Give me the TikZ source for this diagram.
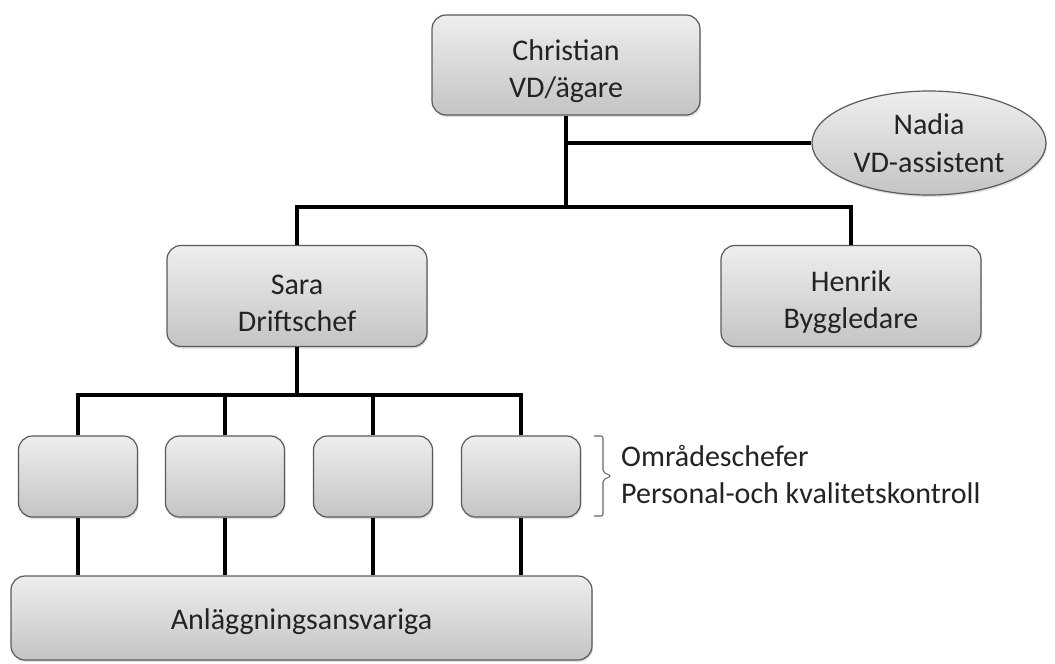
\documentclass[tikz,border=0pt]{standalone}
\usepackage{fontspec}
\setmainfont{Carlito}
\usetikzlibrary{shapes.geometric,shadows}
\definecolor{boxtop}{RGB}{238,238,238}
\definecolor{boxbot}{RGB}{196,196,196}
\definecolor{boxedge}{RGB}{90,90,90}
\definecolor{txt}{RGB}{35,35,35}
\newcommand{\topstrut}{\rule{0pt}{34pt}}
\tikzset{
  orgbox/.style={draw=boxedge, line width=1.2pt, rounded corners=14pt,
    top color=boxtop, bottom color=boxbot, align=center, text=txt,
    font=\fontsize{30}{37}\selectfont, inner sep=0pt,
    drop shadow={shadow xshift=1pt, shadow yshift=-2pt, opacity=0.25}},
  orgell/.style={ellipse, draw=boxedge, line width=1.2pt,
    top color=boxtop, bottom color=boxbot, align=center, text=txt,
    font=\fontsize{30}{38}\selectfont, inner sep=0pt,
    drop shadow={shadow xshift=1pt, shadow yshift=-2pt, opacity=0.25}},
  conn/.style={line width=3.5pt, black},
  bracetxt/.style={align=left, text=txt, font=\fontsize{30}{37}\selectfont, inner sep=0pt}
}
\begin{document}
\begin{tikzpicture}[x=1pt,y=-1pt]
\useasboundingbox (0,0) rectangle (1055,664);
\coordinate (bar1) at (566,207);
\coordinate (bar2) at (297,395);
\node[orgbox, minimum width=268pt, minimum height=100pt] (chr) at (566,65) {\topstrut Christian\\VD/ägare};
\node[orgell, minimum width=234pt, minimum height=104pt] (nadia) at (929,143) {Nadia\\VD-assistent};
\node[orgbox, minimum width=260pt, minimum height=101pt] (sara) at (297,296) {\topstrut Sara\\Driftschef};
\node[orgbox, minimum width=260pt, minimum height=101pt] (henrik) at (851,296) {\topstrut Henrik\\Byggledare};
\node[orgbox, minimum width=119pt, minimum height=81pt] (b1) at (78,476.5) {};
\node[orgbox, minimum width=119pt, minimum height=81pt] (b2) at (225,476.5) {};
\node[orgbox, minimum width=119pt, minimum height=81pt] (b3) at (373,476.5) {};
\node[orgbox, minimum width=119pt, minimum height=81pt] (b4) at (521,476.5) {};
\node[orgbox, minimum width=581pt, minimum height=84pt] (bot) at (301.5,618) {\rule{0pt}{28pt}Anläggningsansvariga};

\draw[conn] (chr.south) -- (chr.south |- bar1);
\draw[conn] (chr.south |- nadia.west) -- (nadia.west);
\draw[conn, line join=miter] (sara.north) -- (sara.north |- bar1) -- (henrik.north |- bar1) -- (henrik.north);
\draw[conn] (sara.south) -- (bar2);
\draw[conn, line join=miter] (b1.north) -- (b1.north |- bar2) -- (b4.north |- bar2) -- (b4.north);
\draw[conn] (b2.north) -- (b2.north |- bar2);
\draw[conn] (b3.north) -- (b3.north |- bar2);
\draw[conn] (b1.south) -- (b1.south |- bot.north);
\draw[conn] (b2.south) -- (b2.south |- bot.north);
\draw[conn] (b3.south) -- (b3.south |- bot.north);
\draw[conn] (b4.south) -- (b4.south |- bot.north);

% brace
\coordinate (brtop) at (594,436);
\coordinate (brbot) at (594,516);
\draw[gray!80!black, line width=1.1pt, rounded corners=2pt]
  (brtop) -- (603,436) -- (603,472) -- (611,476) -- (603,480) -- (603,516) -- (brbot);
\node[bracetxt, anchor=west] (lbl) at (621,474) {Områdeschefer\\Personal-och kvalitetskontroll};
\end{tikzpicture}
\end{document}
